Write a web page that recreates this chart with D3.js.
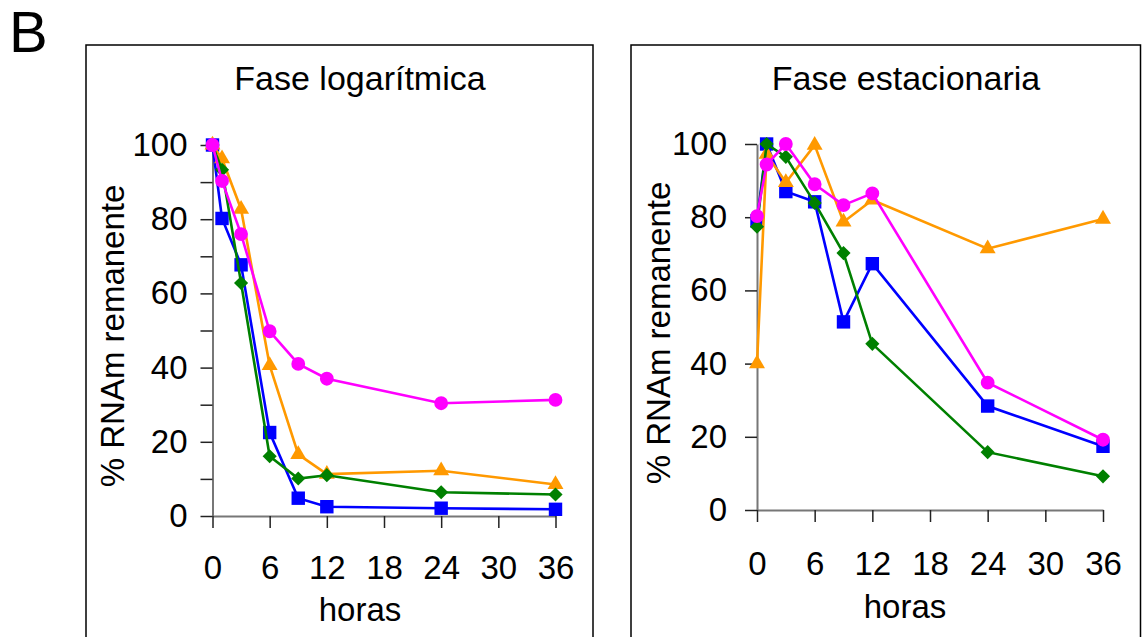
<!DOCTYPE html>
<meta charset="utf-8">
<script src="https://d3js.org/d3.v7.min.js"></script>
<style>
  body { margin: 0; background: #fff; }
  text { font-family: "Liberation Sans", Arial, sans-serif; fill: #000; }
</style>
<div id="chart"></div>
<script>
  // data
  var hours = [0, 1, 3, 6, 9, 12, 24, 36];
  var xTicks = [0, 6, 12, 18, 24, 30, 36];

  var logBlue    = [100, 80.2, 67.7, 22.5, 4.8, 2.5, 2.1, 1.8];
  var logOrange  = [100, 96.3, 82.7, 40.6, 16.6, 11.3, 12.2, 8.5];
  var logGreen   = [100, 93.3, 62.8, 16.1, 10.1, 11.0, 6.4, 5.8];
  var logMagenta = [100, 90.3, 76.0, 49.8, 41.0, 37.0, 30.4, 31.3];

  var statBlue    = [79, 100, 87, 84.2, 51.4, 67.3, 28.4, 17.4];
  var statOrange  = [40, 97.2, 89.5, 99.7, 78.7, 84.7, 71.4, 79.5];
  var statGreen   = [77.4, 100, 96.5, 83.9, 70.2, 45.4, 15.8, 9.2];
  var statMagenta = [80.3, 94.4, 100, 89, 83.3, 86.5, 34.8, 19.2];

  var titles = ["Fase logarítmica", "Fase estacionaria"];
  var yLabel = "% RNAm remanente";
  var xLabel = "horas";

  var W = 1142, H = 637;
  var svg = d3.select("#chart").append("svg")
    .attr("width", W).attr("height", H);

  // panel letter
  svg.append("text").attr("x", 9).attr("y", 52)
    .style("font-size", "58px").text("B");

  var panels = [
    { box: [86, 45, 593], x: [212.5, 555.5], y: [516, 145], yTicks: d3.range(0, 101, 10),
      yStep: 20, yPad: 13, xPad: 28, titleX: 360, xLabX: 360, xLabY: 621, yLabX: 124, yLabY: 336,
      series: [logBlue, logOrange, logGreen, logMagenta] },
    { box: [631, 45, 1140.5], x: [757, 1103], y: [510, 144], yTicks: d3.range(0, 101, 20),
      yStep: 20, yPad: 18, xPad: 30, titleX: 906, xLabX: 905, xLabY: 618, yLabX: 670, yLabY: 333,
      series: [statBlue, statOrange, statGreen, statMagenta] }
  ];

  var styles = [
    { color: "#0000ff", shape: "square" },
    { color: "#ff9900", shape: "triangle" },
    { color: "#008000", shape: "diamond" },
    { color: "#ff00ff", shape: "circle" }
  ];

  function symbolPath(shape) {
    if (shape == "square") return d3.symbol(d3.symbolSquare, 180)();
    if (shape == "circle") return d3.symbol(d3.symbolCircle, 150)();
    if (shape == "triangle") return d3.symbol(d3.symbolTriangle, 110)();
    return d3.symbol(d3.symbolSquare, 100)(); // rotated below -> diamond
  }

  panels.forEach(function(p, i) {
    var g = svg.append("g");

    // frame
    g.append("rect")
      .attr("x", p.box[0]).attr("y", p.box[1])
      .attr("width", p.box[2] - p.box[0]).attr("height", H + 20)
      .attr("fill", "none").attr("stroke", "#000").attr("stroke-width", 1.5);

    g.append("text").attr("x", p.titleX).attr("y", 90)
      .attr("text-anchor", "middle").style("font-size", "34px").text(titles[i]);

    var x = d3.scaleLinear().domain([0, 36]).range(p.x);
    var y = d3.scaleLinear().domain([0, 100]).range(p.y);

    // y axis
    var ya = g.append("g").attr("transform", "translate(" + p.x[0] + ",0)")
      .call(d3.axisLeft(y).tickValues(p.yTicks).tickSize(12).tickSizeOuter(0).tickPadding(p.yPad)
        .tickFormat(function(d) { return d % p.yStep == 0 ? d : ""; }));
    ya.select(".domain").attr("stroke", "#777").attr("stroke-width", 2);
    ya.selectAll(".tick line").attr("stroke", "#222").attr("stroke-width", 1.5);
    ya.selectAll("text").style("font-size", "33px").attr("fill", "#000")
      .style("font-family", "'Liberation Sans', Arial, sans-serif");

    // x axis
    var xa = g.append("g").attr("transform", "translate(0," + p.y[0] + ")")
      .call(d3.axisBottom(x).tickValues(xTicks).tickSize(12).tickSizeOuter(0).tickPadding(p.xPad));
    xa.select(".domain").attr("stroke", "#777").attr("stroke-width", 2);
    xa.selectAll(".tick line").attr("stroke", "#222").attr("stroke-width", 1.5);
    xa.selectAll("text").style("font-size", "33px").attr("fill", "#000")
      .style("font-family", "'Liberation Sans', Arial, sans-serif");

    g.append("text").attr("x", p.xLabX).attr("y", p.xLabY)
      .attr("text-anchor", "middle").style("font-size", "33px").text(xLabel);

    g.append("text")
      .attr("transform", "translate(" + p.yLabX + "," + p.yLabY + ") rotate(-90)")
      .attr("text-anchor", "middle").style("font-size", "33px").text(yLabel);

    var line = d3.line()
      .x(function(d, j) { return x(hours[j]); })
      .y(function(d) { return y(d); });

    p.series.forEach(function(vals, k) {
      var s = styles[k];
      g.append("path").datum(vals)
        .attr("d", line).attr("fill", "none")
        .attr("stroke", s.color).attr("stroke-width", 2.6);
      g.selectAll(".m" + k).data(vals).enter().append("path")
        .attr("class", "m" + k)
        .attr("d", symbolPath(s.shape))
        .attr("fill", s.color)
        .attr("transform", function(d, j) {
          var t = "translate(" + x(hours[j]) + "," + y(d) + ")";
          return s.shape == "diamond" ? t + " rotate(45)" : t;
        });
    });
  });
</script>
